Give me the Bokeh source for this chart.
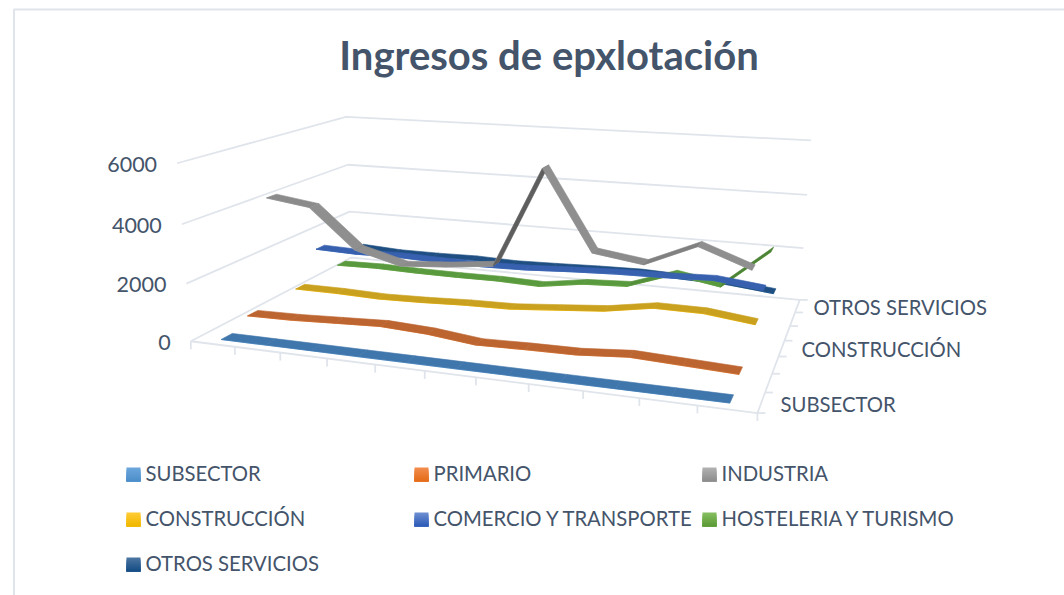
import numpy as np
from bokeh.plotting import figure
from bokeh.models import Range1d, ColumnDataSource
from bokeh.core.properties import value
from bokeh.embed import file_html
from bokeh.resources import INLINE

TITLE = "Ingresos de epxlotación"
SERIES_NAMES = ["SUBSECTOR", "PRIMARIO", "INDUSTRIA", "CONSTRUCCIÓN",
                "COMERCIO Y TRANSPORTE", "HOSTELERIA Y TURISMO", "OTROS SERVICIOS"]
SUBSECTOR = [0, 0, 0, 0, 0, 0, 0, 0, 0, 0, 0]
PRIMARIO = [330, 360, 430, 500, 420, 240, 280, 300, 430, 360, 290]
INDUSTRIA = [4185, 3960, 2580, 2160, 2280, 2465, 5850, 3207, 2970, 3710, 3100]
CONSTRUCCION = [385, 385, 340, 380, 450, 480, 620, 760, 1040, 1030, 830]
COMERCIO = [1520, 1470, 1500, 1450, 1440, 1470, 1560, 1630, 1660, 1720, 1530]
HOSTELERIA = [460, 490, 450, 440, 450, 400, 650, 730, 1320, 1030, 2480]
OTROS = [770, 680, 680, 710, 660, 700, 750, 780, 720, 670, 490]
Z_TICKS = [0, 2000, 4000, 6000]
Z_MAX = 6000
DEPTH_LABELS = {"OTROS SERVICIOS": (813, 306), "CONSTRUCCIÓN": (801, 348), "SUBSECTOR": (780, 403)}

ALL = [SUBSECTOR, PRIMARIO, INDUSTRIA, CONSTRUCCION, COMERCIO, HOSTELERIA, OTROS]
TOP = ["#3F76AB", "#BC6531", "#8B8B8B", "#C9A11F", "#3760AE", "#5A9A3E", "#1F4F82"]
EDGE = ["#5B9BD5", "#ED7D31", "#A5A5A5", "#FFC000", "#4472C4", "#70AD47", "#255E91"]
SW_A = ["#6AA5DC", "#F28A4A", "#B0B0B0", "#FFCB33", "#6A8CD0", "#84BD5F", "#4A74A0"]
SW_B = ["#4E8FCB", "#E56E1C", "#8E8E8E", "#F0B800", "#2F5DB8", "#5E9C38", "#174F86"]
TEXT = "#44546A"
GRID = "#E0E4EB"
FONT = "Lato"

# camera calibration: box corners -> page pixels
cal = [((0, 0, 0), (191, 340)), ((0, 0, 1/3), (185, 283)), ((0, 0, 2/3), (181, 224)), ((0, 0, 1), (177, 163)),
       ((0, 1, 0), (351, 258)), ((0, 1, 1/3), (349, 211)), ((0, 1, 2/3), (347, 164)), ((0, 1, 1), (346, 116)),
       ((1, 1, 0), (799, 299)), ((1, 1, 1/3), (803, 247)), ((1, 1, 2/3), (807, 195)), ((1, 1, 1), (810, 140)),
       ((1, 0, 0), (757, 413))]
A, b = [], []
for (u, v, w), (x, y) in cal:
    A.append([u, v, w, 1, 0, 0, 0, 0, -x*u, -x*v, -x*w]); b.append(x)
    A.append([0, 0, 0, 0, u, v, w, 1, -y*u, -y*v, -y*w]); b.append(y)
m = np.linalg.lstsq(np.array(A, float), np.array(b, float), rcond=None)[0]
P = np.append(m, 1).reshape(3, 4)


def proj(u, v, w):
    q = P @ np.array([u, v, w, 1.0])
    return q[0]/q[2], q[1]/q[2]


def shade(c, f):
    r = [int(c[i:i+2], 16) for i in (1, 3, 5)]
    return "#%02x%02x%02x" % tuple(int(min(255, x*f)) for x in r)


def mix(a, b, t):
    ra = [int(a[i:i+2], 16) for i in (1, 3, 5)]
    rb = [int(b[i:i+2], 16) for i in (1, 3, 5)]
    return "#%02x%02x%02x" % tuple(int(x+(y-x)*t) for x, y in zip(ra, rb))


p = figure(width=1064, height=595, output_backend="svg", toolbar_location=None,
           x_range=Range1d(0, 1064), y_range=Range1d(595, 0), min_border=0)
p.axis.visible = False
p.grid.visible = False
p.outline_line_color = None
p.background_fill_color = "white"

# frame
p.line([13.5, 13.5, 1064], [595, 9, 9], line_color=GRID, line_width=2)

# walls
gx, gy = [], []
for z in Z_TICKS:
    w = z/Z_MAX
    pts = [proj(0, 0, w), proj(0, 1, w), proj(1, 1, w)]
    gx.append([a[0] for a in pts]); gy.append([a[1] for a in pts])
a0, b0 = proj(1, 0, 0), proj(1, 1, 0)
gx.append([proj(0, 0, 0)[0], a0[0], b0[0]]); gy.append([proj(0, 0, 0)[1], a0[1], b0[1]])
for k in range(12):
    a = proj(k/11, 0, 0)
    gx.append([a[0], a[0]]); gy.append([a[1], a[1]+8])
for k in range(8):
    a = proj(1, k/7, 0)
    gx.append([a[0], a[0]+8]); gy.append([a[1], a[1]])
p.multi_line(gx, gy, line_color=GRID, line_width=1.8)

# ribbons, back to front
HALF = 0.029
n = 11
for j in range(6, -1, -1):
    vals = ALL[j]
    vc = (j+0.5)/7
    xs, ys, cols = [], [], []
    ex, ey = [], []
    for i in range(n-1):
        u0, u1 = (i+0.5)/n, (i+1.5)/n
        w0, w1 = vals[i]/Z_MAX, vals[i+1]/Z_MAX
        q = [proj(u0, vc-HALF, w0), proj(u1, vc-HALF, w1), proj(u1, vc+HALF, w1), proj(u0, vc+HALF, w0)]
        xs.append([c[0] for c in q]); ys.append([c[1] for c in q])
        rise = (vals[i+1]-vals[i])/1000
        f = 1.0 if rise < 0.3 else max(0.68, 1-0.1*rise)
        if rise < -0.3:
            f = 1.03
        cols.append(shade(TOP[j], f))
        ex.append(q[0][0]); ey.append(q[0][1])
    ex.append(q[1][0]); ey.append(q[1][1])
    src = ColumnDataSource(dict(xs=xs, ys=ys, c=cols))
    p.line(ex, ey, line_color=EDGE[j], line_width=1.2, line_alpha=0.9)
    p.patches("xs", "ys", fill_color="c", line_color="c", line_width=0.6, source=src)

# value labels
LABEL = dict(text_font=value(FONT), text_color=TEXT, text_baseline="middle")
for z in Z_TICKS:
    x, y = proj(0, 0, z/Z_MAX)
    p.text([x-20], [y+1], text=[str(z)], text_align="right", text_font_size="21.5px", **LABEL)
for name, (x, y) in DEPTH_LABELS.items():
    p.text([x], [y], text=[name], text_align="left", text_font_size="20.3px", **LABEL)

# title
p.text([548.5], [54], text=[TITLE], text_align="center", text_font_size="40px", text_font_style="bold",
       text_font=value(FONT), text_color=TEXT, text_baseline="middle")

# legend
cols_x = [126, 414, 702]
rows_y = [467, 512, 557]
pos = [(0, 0), (1, 0), (2, 0), (0, 1), (1, 1), (2, 1), (0, 2)]
for idx, (cx, ry) in enumerate(pos):
    x, y = cols_x[cx], rows_y[ry]
    for s in range(7):
        p.quad(left=[x], right=[x+14], top=[y+s*2], bottom=[y+14],
               fill_color=mix(SW_A[idx], SW_B[idx], s/6), line_color=None)
    p.text([x+19], [y+5], text=[SERIES_NAMES[idx]], text_align="left", text_font_size="20.3px", **LABEL)

open("out.html", "w").write(file_html(p, INLINE))
